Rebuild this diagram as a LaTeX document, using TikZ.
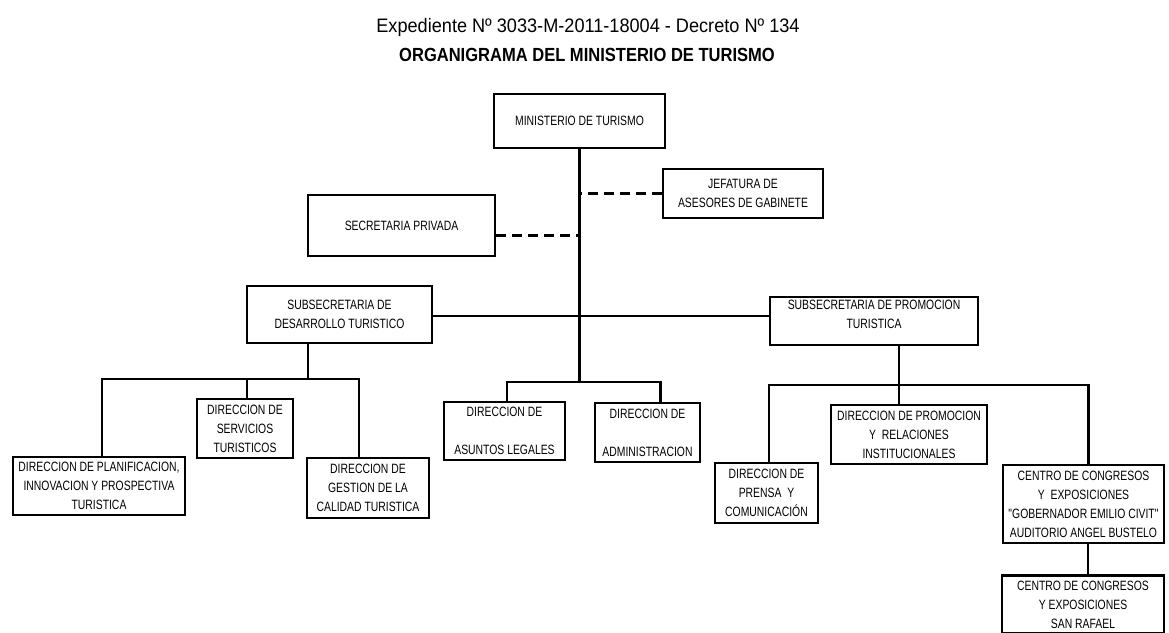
\documentclass[tikz,border=0pt]{standalone}
\usepackage{fontspec}
\usepackage{tikz}
\usetikzlibrary{positioning}
\newfontfamily\boxfont{Liberation Sans}[FakeStretch=0.77]
\newfontfamily\headfont{Liberation Sans}[FakeStretch=0.93]
\newfontfamily\headboldfont{Liberation Sans}[FakeStretch=0.87]
\tikzstyle{unit} = [draw, line width=2.8pt, inner sep=0pt, align=center, font=\boxfont\fontsize{13.5}{19}\selectfont]
\tikzstyle{link} = [line width=2.2pt]
\tikzstyle{dashes} = [line width=3pt, dash pattern=on 10pt off 6pt]

\begin{document}
\begin{tikzpicture}[x=1pt, y=-1pt]
			\useasboundingbox (0, 0) rectangle (1169, 632);

			\node (Head1) [anchor=base, font=\headfont\fontsize{19.5}{22}\selectfont] at (588, 32) {Expediente Nº 3033-M-2011-18004 - Decreto Nº 134};
			\node (Head2) [anchor=base, font=\headboldfont\bfseries\fontsize{19}{22}\selectfont] at (587, 61) {ORGANIGRAMA DEL MINISTERIO DE TURISMO};

			\node (Min) [unit, minimum width=171pt, minimum height=54pt] at (579.5, 121) {MINISTERIO DE TURISMO};
			\node (Jef) [unit, minimum width=160pt, minimum height=49pt] at (743, 193.5) {JEFATURA DE\\ASESORES DE GABINETE};
			\node (Sec) [unit, minimum width=187pt, minimum height=61pt] at (401.5, 225.5) {SECRETARIA PRIVADA};

			\node (SubDes) [unit, minimum width=185pt, minimum height=57pt] at (339.5, 314.5) {SUBSECRETARIA DE\\DESARROLLO TURISTICO};
			\node (SubPro) [unit, minimum width=208pt, minimum height=48pt] at (874, 321) {SUBSECRETARIA DE PROMOCION\\TURISTICA\\[-6pt]};

			\node (DirPlan) [unit, minimum width=172pt, minimum height=58pt] at (99, 486) {DIRECCION DE PLANIFICACION,\\INNOVACION Y PROSPECTIVA\\TURISTICA};
			\node (DirServ) [unit, minimum width=96pt, minimum height=59pt] at (245, 428.5) {DIRECCION DE\\SERVICIOS\\TURISTICOS};
			\node (DirGest) [unit, minimum width=122pt, minimum height=60pt] at (368, 488) {DIRECCION DE\\GESTION DE LA\\CALIDAD TURISTICA};

			\node (DirLeg) [unit, minimum width=121pt, minimum height=58pt] at (504.5, 431) {DIRECCION DE\\[19pt]ASUNTOS LEGALES};
			\node (DirAdm) [unit, minimum width=105pt, minimum height=59pt] at (647.5, 432.5) {DIRECCION DE\\[19pt]ADMINISTRACION};

			\node (DirPren) [unit, minimum width=103pt, minimum height=60pt] at (766.5, 493) {DIRECCION DE\\PRENSA~~Y\\COMUNICACIÓN};
			\node (DirProm) [unit, minimum width=156pt, minimum height=59pt] at (909, 434.5) {DIRECCION DE PROMOCION\\Y~~RELACIONES\\INSTITUCIONALES};
			\node (Centro1) [unit, minimum width=161pt, minimum height=78pt] at (1083.5, 504) {CENTRO DE CONGRESOS\\Y~~EXPOSICIONES\\"GOBERNADOR EMILIO CIVIT"\\AUDITORIO ANGEL BUSTELO};
			\node (Centro2) [unit, minimum width=162pt, minimum height=58pt] at (1083, 604.5) {CENTRO DE CONGRESOS\\Y EXPOSICIONES\\SAN RAFAEL};

			% main line
			\coordinate (SecJoin) at (579.5, 235);
			\coordinate (SubJoin) at (579.5, 316);
			\coordinate (MidBar) at (579.5, 382);
			\draw [link] (Min.south) -- (MidBar);
			\draw [dashes] (Jef.west) -- (Jef.west -| Min.south);
			\draw [dashes] (SecJoin -| Sec.east) -- (SecJoin);
			\draw [link] (SubJoin -| SubDes.east) -- (SubJoin -| SubPro.west);

			% left branch
			\coordinate (LeftBar) at (308, 379);
			\draw [link] (LeftBar |- SubDes.south) -- (LeftBar);
			\draw [link] ([xshift=3pt]DirPlan.north) |- (LeftBar) -| ([xshift=-9pt]DirGest.north);
			\draw [link] ([xshift=2pt]DirServ.north) -- ([xshift=2pt]DirServ.north |- LeftBar);

			% middle branch
			\draw [link] ([xshift=2.5pt]DirLeg.north) |- (MidBar) -| ([xshift=13pt]DirAdm.north);

			% right branch
			\coordinate (RightBar) at (899, 385);
			\draw [link] (RightBar |- SubPro.south) -- (RightBar);
			\draw [link] ([xshift=2.5pt]DirPren.north) |- (RightBar) -| ([xshift=5pt]Centro1.north);
			\draw [link] (RightBar) -- (RightBar |- DirProm.north);
			\draw [link] ([xshift=4.5pt]Centro1.south) -- ([xshift=4.5pt]Centro1.south |- Centro2.north);
\end{tikzpicture}
\end{document}
